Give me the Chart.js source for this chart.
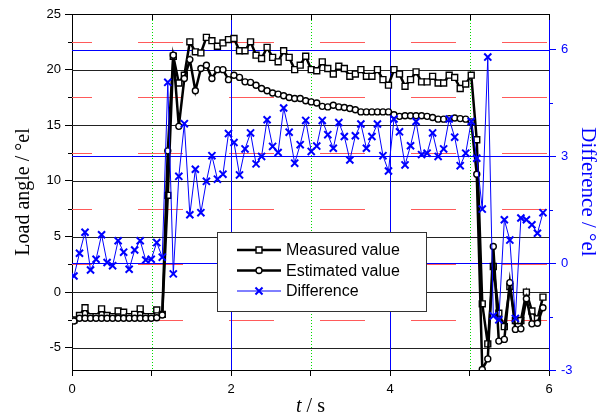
<!DOCTYPE html>
<html lang="en">
<head>
  <meta charset="UTF-8">
  <title>Load angle</title>
  <script src="https://cdn.jsdelivr.net/npm/chart.js@4"></script>
  <style>
    * { box-sizing: border-box; }
    body { margin: 0; background: #fff; }
    #wrap { width: 607px; height: 417px; }
  </style>
</head>
<body>
  <div id="wrap"><canvas id="loadChart" width="607" height="417"></canvas></div>

  <script>
    // sampling of the recorded run
    const t0 = 0.025;
    const dt = 0.0694;

    const measured = [
      -2.5, -2.1, -1.4, -2.2, -2.2, -1.5, -2.1, -2.2, -1.7, -1.8,
      -2.2, -2.0, -1.5, -2.2, -2.2, -1.6, -2.0, 8.7, 21.2, 18.8,
      19.5, 22.5, 21.6, 21.5, 22.9, 22.6, 22.1, 22.4, 22.7, 22.8,
      21.7, 21.7, 22.5, 21.3, 21.0, 22.0, 21.1, 20.7, 21.7, 21.1,
      20.0, 20.4, 21.2, 20.0, 19.9, 20.7, 20.1, 19.6, 20.3, 20.1,
      19.4, 19.6, 20.0, 19.4, 19.4, 20.0, 19.1, 18.6, 20.0, 19.6,
      18.5, 19.1, 19.8, 18.9, 18.9, 19.4, 18.8, 18.8, 19.5, 19.3,
      18.3, 18.7, 19.5, 13.7, -1.05, -4.65, 2.3, -1.9, -3.1, 0.5,
      -2.55, -2.55, 0.0, -1.7, -2.4, -0.45
    ];

    const estimated = [
      -2.6, -2.35, -2.35, -2.35, -2.35, -2.35, -2.35, -2.35, -2.35, -2.35,
      -2.35, -2.35, -2.35, -2.35, -2.35, -2.3, -2.05, 12.7, 21.3, 14.9,
      19.2, 20.9, 18.1, 20.1, 20.4, 19.2, 20.0, 20.0, 19.1, 19.5,
      19.3, 18.9, 18.85, 18.6, 18.3, 18.1, 17.9, 17.8, 17.65, 17.5,
      17.4, 17.4, 17.2, 17.1, 17.0, 16.7, 16.65, 16.8, 16.65, 16.6,
      16.5, 16.4, 16.2, 16.2, 16.2, 16.2, 16.2, 16.2, 15.95, 15.8,
      15.85, 15.85, 15.85, 15.85, 15.8, 15.7, 15.55, 15.55, 15.6, 15.65,
      15.6, 15.55, 15.3, 10.6, -6.95, -6.0, 4.1, -4.4, -4.25, 0.85,
      -3.35, -3.3, -0.6, -2.85, -2.8, -1.4
    ];

    const difference = [
      -0.36, 0.28, 0.87, -0.19, 0.11, 0.80, 0.02, -0.07, 0.63, 0.31,
      -0.17, 0.37, 0.63, 0.09, 0.11, 0.58, 0.17, 5.08, -0.30, 2.44,
      3.92, 1.36, 2.64, 1.42, 2.30, 3.02, 2.36, 2.50, 3.64, 3.39,
      2.48, 3.21, 3.66, 2.79, 3.00, 4.03, 3.28, 3.11, 4.36, 3.68,
      2.81, 3.33, 4.01, 3.14, 3.29, 4.01, 3.61, 3.23, 3.95, 3.56,
      2.90, 3.58, 3.91, 3.23, 3.56, 3.91, 3.02, 2.59, 4.05, 3.69,
      2.76, 3.30, 3.98, 3.05, 3.09, 3.66, 3.00, 3.21, 4.05, 3.54,
      2.74, 3.09, 3.98, 2.95, 1.52, 5.79, -1.48, -1.59, 1.22, 0.65,
      -1.55, 1.27, 1.22, 1.08, 0.84, 1.42
    ];

    // axes
    const xTicks = [0, 1, 2, 3, 4, 5, 6];
    const xLabelled = [0, 2, 4, 6];
    const leftTicks = [-5, 0, 5, 10, 15, 20, 25];
    const leftMinor = [-2.5, 2.5, 7.5, 12.5, 17.5, 22.5];
    const rightTicks = [-3, 0, 3, 6];
    const rightMinor = [-1.5, 1.5, 4.5];
    const blueGridX = [2, 4];
    const greenGridX = [1, 3, 5];

    const time = measured.map((_, i) => +(t0 + i * dt).toFixed(4));
    const toPoints = ys => ys.map((v, i) => ({ x: time[i], y: v }));

    const BLUE = '#0000ff';
    const sans = '"Liberation Sans", Arial, sans-serif';
    const serif = '"Liberation Serif", "Times New Roman", serif';
    const tickFont = { family: sans, size: 13 };

    function hLine(ctx, a, y) {
      ctx.beginPath();
      ctx.moveTo(a.left, Math.round(y) + 0.5);
      ctx.lineTo(a.right, Math.round(y) + 0.5);
      ctx.stroke();
    }
    function vLine(ctx, a, x) {
      ctx.beginPath();
      ctx.moveTo(Math.round(x) + 0.5, a.top);
      ctx.lineTo(Math.round(x) + 0.5, a.bottom);
      ctx.stroke();
    }

    const gridPlugin = {
      id: 'gridLines',
      beforeDatasetsDraw(chart) {
        const { ctx, chartArea: a, scales: { x, y, y2 } } = chart;
        ctx.save();
        ctx.lineWidth = 1;

        // red minor lines of the left axis, broken into ~45px runs
        ctx.strokeStyle = '#ff5a5a';
        ctx.setLineDash([45, 46]);
        ctx.lineDashOffset = 25;
        leftMinor.forEach(v => hLine(ctx, a, y.getPixelForValue(v)));

        ctx.strokeStyle = 'rgb(0,220,0)';
        ctx.setLineDash([1, 2]);
        ctx.lineDashOffset = 0;
        greenGridX.forEach(v => vLine(ctx, a, x.getPixelForValue(v)));

        ctx.setLineDash([]);
        ctx.strokeStyle = '#222';
        leftTicks.forEach(v => hLine(ctx, a, y.getPixelForValue(v)));

        ctx.strokeStyle = BLUE;
        rightTicks.filter(v => v > -3).forEach(v => hLine(ctx, a, y2.getPixelForValue(v)));
        blueGridX.forEach(v => vLine(ctx, a, x.getPixelForValue(v)));

        // top frame with inward ticks
        ctx.strokeStyle = '#000';
        hLine(ctx, a, a.top);
        xTicks.forEach(v => {
          const px = Math.round(x.getPixelForValue(v)) + 0.5;
          ctx.beginPath();
          ctx.moveTo(px, a.top);
          ctx.lineTo(px, a.top + 6);
          ctx.stroke();
        });

        // minor ticks on both value axes
        leftMinor.forEach(v => {
          const py = Math.round(y.getPixelForValue(v)) + 0.5;
          ctx.beginPath();
          ctx.moveTo(a.left - 4, py);
          ctx.lineTo(a.left, py);
          ctx.stroke();
        });
        ctx.strokeStyle = BLUE;
        rightMinor.forEach(v => {
          const py = Math.round(y2.getPixelForValue(v)) + 0.5;
          ctx.beginPath();
          ctx.moveTo(a.right, py);
          ctx.lineTo(a.right + 4, py);
          ctx.stroke();
        });
        ctx.restore();
      }
    };

    const framePlugin = {
      id: 'titlesAndLegend',
      afterDraw(chart) {
        const { ctx, chartArea: a, scales: { x } } = chart;
        const midY = (a.top + a.bottom) / 2;
        ctx.save();

        // axis titles
        ctx.textAlign = 'center';
        ctx.textBaseline = 'middle';
        ctx.font = '20px ' + serif;
        ctx.fillStyle = '#000';
        ctx.save();
        ctx.translate(24, midY);
        ctx.rotate(-Math.PI / 2);
        ctx.fillText('Load angle / °el', 0, 0);
        ctx.restore();

        ctx.fillStyle = BLUE;
        ctx.font = '21px ' + serif;
        ctx.save();
        ctx.translate(588, midY);
        ctx.rotate(Math.PI / 2);
        ctx.fillText('Difference / °el', 0, 0);
        ctx.restore();

        ctx.fillStyle = '#000';
        ctx.textBaseline = 'alphabetic';
        ctx.textAlign = 'left';
        const italic = 'italic 20px ' + serif;
        const upright = '20px ' + serif;
        ctx.font = italic;
        const wT = ctx.measureText('t').width;
        ctx.font = upright;
        const wRest = ctx.measureText(' / s').width;
        const cx = x.getPixelForValue(3);
        const sx = cx - (wT + wRest) / 2;
        ctx.font = italic;
        ctx.fillText('t', sx, 412);
        ctx.font = upright;
        ctx.fillText(' / s', sx + wT, 412);

        // legend box
        const box = { left: 217, top: 232, width: 209, height: 79 };
        ctx.fillStyle = '#fff';
        ctx.fillRect(box.left, box.top, box.width, box.height);
        ctx.strokeStyle = '#333';
        ctx.lineWidth = 1;
        ctx.strokeRect(box.left + 0.5, box.top + 0.5, box.width, box.height);

        ctx.font = '16px ' + sans;
        ctx.textBaseline = 'middle';
        chart.data.datasets.forEach((ds, i) => {
          const ly = box.top + 18 + i * 20.5;
          ctx.strokeStyle = ds.borderColor;
          ctx.lineWidth = ds.borderWidth;
          ctx.beginPath();
          ctx.moveTo(237, ly);
          ctx.lineTo(281, ly);
          ctx.stroke();
          ctx.fillStyle = ds.pointBackgroundColor || '#fff';
          ctx.lineWidth = ds.pointBorderWidth;
          Chart.helpers.drawPoint(ctx, {
            pointStyle: ds.pointStyle,
            radius: ds.pointRadius,
            borderWidth: ds.pointBorderWidth,
            rotation: 0
          }, 259, ly);
          ctx.fillStyle = '#000';
          ctx.fillText(ds.label, 286, ly + 1);
        });
        ctx.restore();
      }
    };

    new Chart(document.getElementById('loadChart'), {
      type: 'line',
      data: {
        datasets: [
          {
            label: 'Measured value',
            data: toPoints(measured),
            yAxisID: 'y',
            borderColor: '#000',
            borderWidth: 2.5,
            pointStyle: 'rect',
            pointRadius: 4.2,
            pointBorderWidth: 1.4,
            pointBorderColor: '#000',
            pointBackgroundColor: '#fff',
            order: 2
          },
          {
            label: 'Estimated value',
            data: toPoints(estimated),
            yAxisID: 'y',
            borderColor: '#000',
            borderWidth: 2.5,
            pointStyle: 'circle',
            pointRadius: 3,
            pointBorderWidth: 1.4,
            pointBorderColor: '#000',
            pointBackgroundColor: '#fff',
            order: 1
          },
          {
            label: 'Difference',
            data: toPoints(difference),
            yAxisID: 'y2',
            borderColor: BLUE,
            borderWidth: 1,
            pointStyle: 'crossRot',
            pointRadius: 5,
            pointBorderWidth: 2,
            pointBorderColor: BLUE,
            pointBackgroundColor: BLUE,
            order: 0
          }
        ]
      },
      options: {
        responsive: false,
        animation: false,
        devicePixelRatio: 1,
        layout: { padding: { top: 14 } },
        elements: { line: { tension: 0 } },
        plugins: { legend: { display: false }, tooltip: { enabled: false } },
        scales: {
          x: {
            type: 'linear',
            min: 0,
            max: 6,
            afterBuildTicks: s => { s.ticks = xTicks.map(v => ({ value: v })); },
            afterFit: s => { s.height = 47; },
            ticks: {
              font: tickFont,
              color: '#000',
              padding: 6,
              maxRotation: 0,
              autoSkip: false,
              callback: v => xLabelled.includes(v) ? String(v) : ''
            },
            grid: { drawOnChartArea: false, tickLength: 6, tickColor: '#000' },
            border: { color: '#000', width: 1 }
          },
          y: {
            position: 'left',
            min: -7,
            max: 25,
            afterBuildTicks: s => { s.ticks = leftTicks.map(v => ({ value: v })); },
            afterFit: s => { s.width = 72; },
            ticks: { font: tickFont, color: '#000', padding: 4 },
            grid: { drawOnChartArea: false, tickLength: 7, tickColor: '#000' },
            border: { color: '#000', width: 1 }
          },
          y2: {
            position: 'right',
            min: -3,
            max: 7,
            afterBuildTicks: s => { s.ticks = rightTicks.map(v => ({ value: v })); },
            afterFit: s => { s.width = 58; },
            ticks: { font: tickFont, color: BLUE, padding: 5 },
            grid: { drawOnChartArea: false, tickLength: 7, tickColor: BLUE },
            border: { color: BLUE, width: 1 }
          }
        }
      },
      plugins: [gridPlugin, framePlugin]
    });
  </script>
</body>
</html>
